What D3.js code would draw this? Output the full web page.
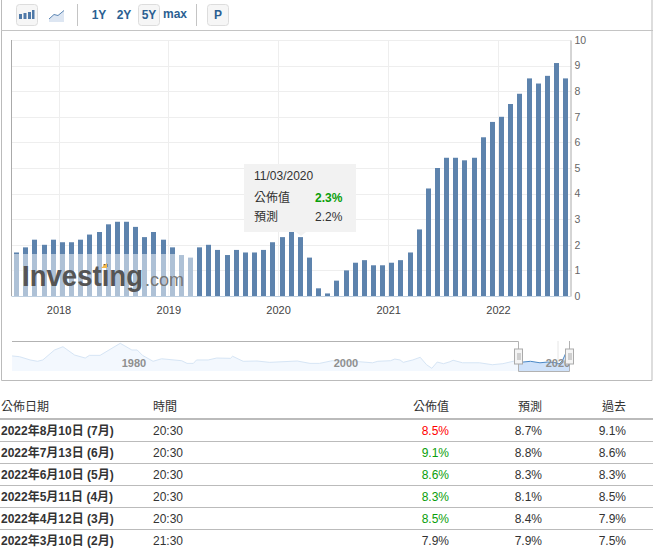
<!DOCTYPE html>
<html><head><meta charset="utf-8">
<script src="https://cdn.jsdelivr.net/npm/d3@7/dist/d3.min.js"></script>
<style>
html,body{margin:0;padding:0;background:#fff;overflow:hidden}
svg{display:block}
text{font-family:"Liberation Sans","Noto Sans CJK TC",sans-serif}
</style></head><body>
<svg id="c" width="653" height="550"></svg>
<script>
const months=["2017-08","2017-09","2017-10","2017-11","2017-12","2018-01","2018-02","2018-03","2018-04","2018-05","2018-06","2018-07","2018-08","2018-09","2018-10","2018-11","2018-12","2019-01","2019-02","2019-03","2019-04","2019-05","2019-06","2019-07","2019-08","2019-09","2019-10","2019-11","2019-12","2020-01","2020-02","2020-03","2020-04","2020-05","2020-06","2020-07","2020-08","2020-09","2020-10","2020-11","2020-12","2021-01","2021-02","2021-03","2021-04","2021-05","2021-06","2021-07","2021-08","2021-09","2021-10","2021-11","2021-12","2022-01","2022-02","2022-03","2022-04","2022-05","2022-06","2022-07","2022-08"];
const cpi=[1.7,1.9,2.2,2.0,2.2,2.1,2.1,2.2,2.4,2.5,2.8,2.9,2.9,2.7,2.3,2.5,2.2,1.9,1.6,1.5,1.9,2.0,1.8,1.6,1.8,1.7,1.7,1.8,2.1,2.3,2.5,2.3,1.5,0.3,0.1,0.6,1.0,1.3,1.4,1.2,1.2,1.3,1.4,1.7,2.6,4.2,5.0,5.4,5.4,5.3,5.4,6.2,6.8,7.0,7.5,7.9,8.5,8.3,8.6,9.1,8.5];
const yearTicks=[2018,2019,2020,2021,2022];
const valueTicks=[0,1,2,3,4,5,6,7,8,9,10];
const navYears=[1968.5,1969.2,1970.2,1970.9,1971.4,1972.5,1973.3,1974.4,1975.4,1975.8,1976.8,1978.7,1979.8,1980.3,1980.8,1981.8,1982.6,1984.5,1985,1985.6,1985.9,1987,1987.8,1989.1,1989.3,1990.3,1991.6,1992.8,1995.4,1996.6,1997.5,1998.7,2001.3,2002.5,2003,2004.2,2004.6,2005.1,2005.4,2006.3,2007,2007.6,2008.1,2008.6,2009.2,2009.8,2010.1,2011,2012.6,2013.8,2014.8,2016,2016.7,2017.4,2018.3,2019,2019.7,2020.1,2020.4,2020.7];
const navValues=[6.3,5.8,3.6,2.7,3.6,10.3,12.5,6.9,4.9,6.7,6.7,14.8,10.3,10.3,6.7,2.7,4.4,3.1,1.3,1.3,3.6,3.6,4.9,4.7,6.1,2.7,2.9,2.0,2.9,1.3,1.3,3.1,2.4,1.7,2.7,3.1,4.2,3.6,2.0,3.6,5.4,0.4,-2.0,2.2,1.1,2.4,3.4,1.7,1.7,0.4,1.1,3.1,2.2,2.7,1.7,2.2,1.9,0.9,2.9,7.6];
const navTicks=[1980,2000,2020];
const tableHead=["公佈日期","時間","公佈值","預測","過去"];
const relDates=["2022年8月10日 (7月)","2022年7月13日 (6月)","2022年6月10日 (5月)","2022年5月11日 (4月)","2022年4月12日 (3月)","2022年3月10日 (2月)"];
const relTimes=["20:30","20:30","20:30","20:30","20:30","21:30"];
const actual=[8.5,9.1,8.6,8.3,8.5,7.9];
const forecast=[8.7,8.8,8.3,8.1,8.4,7.9];
const previous=[9.1,8.6,8.3,8.5,7.9,7.5];
const pct=d=>d.toFixed(1)+"%";

const svg=d3.select("#c");
const BLUE="#5d83ad", LINK="#2b5f92";

// outer panel frame
svg.append("path").attr("d","M1.5,0V380.5H652V0").attr("fill","none").attr("stroke","#bbb");
svg.append("line").attr("x1",1).attr("x2",653).attr("y1",30.5).attr("y2",30.5).attr("stroke","#c4c4c4");

// toolbar
const tb=svg.append("g");
const btn=(x,w)=>tb.append("rect").attr("x",x+.5).attr("y",4.5).attr("width",w).attr("height",21).attr("rx",3).attr("fill","#f6f6f6").attr("stroke","#ddd");
btn(16,21);btn(138,21);btn(207,21);
[[19,3,5],[23.5,3,6],[28,3,7],[32,2.5,9]].forEach(([x,w,h])=>tb.append("rect").attr("x",x).attr("y",19-h).attr("width",w).attr("height",h).attr("fill","#4f79a8"));
tb.append("path").attr("d","M49,19L54,14.5L58,15.5L64,10.5V22H49Z").attr("fill","#dde6f2");
tb.append("path").attr("d","M49,19L54,14.5L58,15.5L64,10.5").attr("fill","none").attr("stroke","#5b85b3");
[77.5,196.5].forEach(x=>tb.append("line").attr("x1",x).attr("x2",x).attr("y1",4).attr("y2",26).attr("stroke","#c4c4c4"));
[["1Y",99,19],["2Y",124,19],["5Y",149,19],["max",175,18],["P",218,19]].forEach(([t,x,y])=>
  tb.append("text").attr("x",x).attr("y",y).attr("text-anchor","middle").attr("font-size",12).attr("font-weight","bold").attr("fill",LINK).text(t));

// scales
const plot={l:11.5,r:570.5,t:40,b:296};
const x=d3.scalePoint().domain(months).range([16.7,565.6]);
const xYear=d3.scaleTime().domain([new Date(2018,0,1),new Date(2022,0,1)]).range([58.5,498]);
const y=d3.scaleLinear().domain([0,10]).range([plot.b,plot.t]);

// grid
const grid=svg.append("g").attr("stroke","#eee").attr("shape-rendering","crispEdges");
valueTicks.slice(1).forEach(v=>grid.append("line").attr("x1",plot.l).attr("x2",plot.r).attr("y1",Math.round(y(v))).attr("y2",Math.round(y(v))));
yearTicks.forEach(t=>{const p=Math.round(xYear(new Date(t,0,1)));grid.append("line").attr("x1",p).attr("x2",p).attr("y1",plot.t).attr("y2",plot.b);});

// bars
const barW=5;
svg.append("g").selectAll("rect").data(cpi).join("rect")
  .attr("x",(d,i)=>Math.round(x(months[i])-barW/2)).attr("width",barW)
  .attr("y",d=>y(d)).attr("height",d=>plot.b-y(d)).attr("fill",BLUE);

// axes
const yAxis=d3.axisRight(y).tickValues(valueTicks).tickSize(0).tickPadding(4);
const gy=svg.append("g").attr("transform",`translate(${plot.r},0)`).call(yAxis);
gy.select(".domain").attr("stroke","#aaa");
gy.selectAll("text").attr("font-size",10.5).attr("fill","#666").attr("font-family",null);
svg.append("line").attr("x1",plot.l).attr("x2",plot.l).attr("y1",plot.t).attr("y2",plot.b).attr("stroke","#aaa");
const xAxis=d3.axisBottom(xYear).tickValues(yearTicks.map(t=>new Date(t,0,1))).tickFormat(d3.timeFormat("%Y")).tickSize(0).tickPadding(10);
const gx=svg.append("g").attr("transform",`translate(0,${plot.b+.5})`).call(xAxis);
gx.select(".domain").attr("d",`M${plot.l},0H${plot.r}`).attr("stroke","#c0d0e0");
gx.selectAll("text").attr("font-size",11).attr("fill","#444").attr("font-family",null);

// watermark
const wm=svg.append("g");
wm.append("rect").attr("x",12).attr("y",254).attr("width",181).attr("height",42).attr("fill","#fff").attr("opacity",.5);
wm.append("text").attr("x",22).attr("y",286).attr("font-size",30).attr("font-weight","bold").attr("fill","#555").attr("textLength",121).attr("lengthAdjust","spacingAndGlyphs").text("Investing");
wm.append("text").attr("x",145).attr("y",286).attr("font-size",18).attr("fill","#777").text(".com");
wm.append("path").attr("d","M101,268L107,263V268Z").attr("fill","#f3b94b");

// tooltip
const tip=svg.append("g");
tip.append("rect").attr("x",244).attr("y",164).attr("width",112).attr("height",68).attr("fill","#f2f2f2").attr("opacity",.97);
tip.append("path").attr("d","M296,232H306L301,236Z").attr("fill","#f2f2f2");
const tt=(t,x,y,o={})=>tip.append("text").attr("x",x).attr("y",y).attr("font-size",12).attr("fill",o.c||"#333").attr("font-weight",o.b?"bold":null).text(t);
tt("11/03/2020",254,180);
tt("公佈值",254,202);tt("2.3%",315,202,{c:"#0a9e0a",b:1});
tt("預測",254,221);tt("2.2%",315,221);

// navigator
const nx=d3.scaleLinear().domain([1980,2000]).range([134,346]);
const ny=d3.scaleLinear().domain([14.8,-2]).range([343.3,368.3]);
const navData=navYears.map((t,i)=>[t,navValues[i]]);
const navBase=371;
const area=d3.area().x(d=>nx(d[0])).y0(navBase).y1(d=>ny(d[1]));
const nline=d3.line().x(d=>nx(d[0])).y(d=>ny(d[1]));
const defs=svg.append("defs");
const sel={a:518,b:569};
defs.append("clipPath").attr("id","ca").append("rect").attr("x",0).attr("y",330).attr("width",sel.a).attr("height",50);
defs.append("clipPath").attr("id","cb").append("rect").attr("x",sel.a).attr("y",330).attr("width",sel.b-sel.a).attr("height",50);
const nav=svg.append("g");
nav.append("line").attr("x1",nx(2020)).attr("x2",nx(2020)).attr("y1",341).attr("y2",372).attr("stroke","#e6e6e6");
nav.append("rect").attr("x",12).attr("y",navBase-30).attr("width",0).attr("height",0);
nav.append("path").datum(navData.concat([[(sel.b-134)/10.6+1980,navValues[navValues.length-1]]])).attr("d",area).attr("fill","#f3f8fe").attr("clip-path","url(#ca)");
nav.append("path").datum(navData).attr("d",nline).attr("fill","none").attr("stroke","#d6e5f5").attr("clip-path","url(#ca)");
nav.append("path").datum(navData.concat([[(sel.b-134)/10.6+1980,navValues[navValues.length-1]]])).attr("d",area).attr("fill","#cfe2fa").attr("clip-path","url(#cb)");
nav.append("path").datum(navData).attr("d",nline).attr("fill","none").attr("stroke","#4a88c6").attr("clip-path","url(#cb)");
nav.append("path").attr("d",`M12,341.5H${sel.a+.5}V371.5H${sel.b+.5}V341`).attr("fill","none").attr("stroke","#b2b2b2");
navTicks.forEach(t=>nav.append("text").attr("x",nx(t)).attr("y",367).attr("text-anchor","middle").attr("font-size",11).attr("font-weight","bold").attr("fill","#8f8f8f").text(t));
[sel.a,sel.b].forEach(p=>{
  const h=nav.append("g").attr("transform",`translate(${p-3.5},349)`);
  h.append("rect").attr("x",0).attr("y",0).attr("width",8).attr("height",15).attr("fill","#f4f4f4").attr("stroke","#aaa");
  [3,5].forEach(v=>h.append("line").attr("x1",v+.5).attr("x2",v+.5).attr("y1",4).attr("y2",11).attr("stroke","#aaa"));
});

// table
const tbl=svg.append("g");
const colX={date:1,time:153,act:449,fc:542,prev:626};
const cellY=i=>435+i*22;
const head=[[tableHead[0],colX.date,"start"],[tableHead[1],colX.time,"start"],[tableHead[2],colX.act,"end"],[tableHead[3],colX.fc,"end"],[tableHead[4],colX.prev,"end"]];
head.forEach(([t,x,a])=>tbl.append("text").attr("x",x).attr("y",411).attr("text-anchor",a).attr("font-size",12).attr("fill","#333").text(t));
tbl.append("line").attr("x1",0).attr("x2",653).attr("y1",419).attr("y2",419).attr("stroke","#bbb").attr("stroke-width",2);
relDates.forEach((d,i)=>{
  if(i<relDates.length-1) tbl.append("line").attr("x1",0).attr("x2",653).attr("y1",441.5+i*22).attr("y2",441.5+i*22).attr("stroke","#bbb");
  const yy=cellY(i);
  const nextPrev=previous[i];
  const color=actual[i]>forecast[i]?"#0a9e0a":actual[i]<forecast[i]?"#f00":"#333";
  tbl.append("text").attr("x",colX.date).attr("y",yy).attr("font-size",12).attr("font-weight","bold").attr("fill","#333").text(d);
  tbl.append("text").attr("x",colX.time).attr("y",yy).attr("font-size",12).attr("fill","#333").text(relTimes[i]);
  tbl.append("text").attr("x",colX.act).attr("y",yy).attr("text-anchor","end").attr("font-size",12).attr("fill",color).text(pct(actual[i]));
  tbl.append("text").attr("x",colX.fc).attr("y",yy).attr("text-anchor","end").attr("font-size",12).attr("fill","#333").text(pct(forecast[i]));
  tbl.append("text").attr("x",colX.prev).attr("y",yy).attr("text-anchor","end").attr("font-size",12).attr("fill","#333").text(pct(nextPrev));
});
</script>
</body></html>
